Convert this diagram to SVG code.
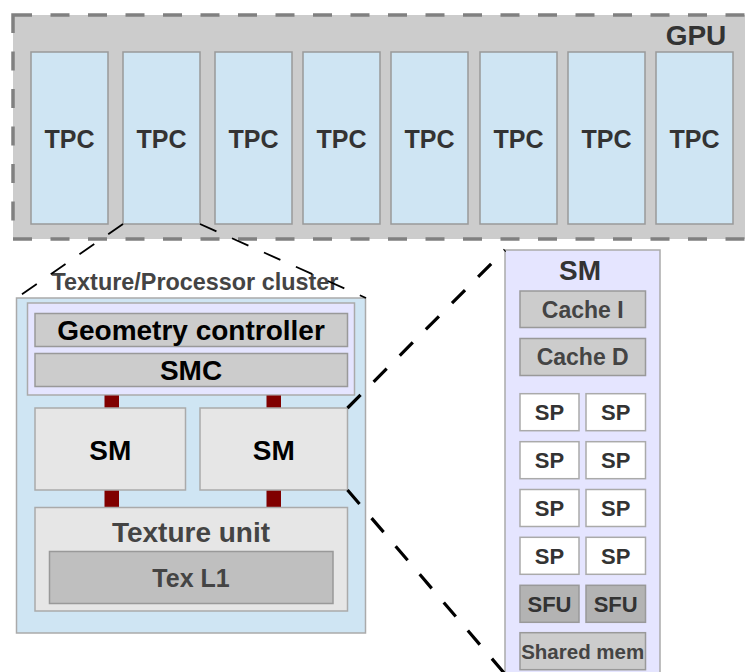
<svg xmlns="http://www.w3.org/2000/svg" width="745" height="672" viewBox="0 0 745 672">
<style>
text{font-family:"Liberation Sans",Arial,sans-serif;font-weight:bold;text-anchor:middle}
.tpc{fill:#cfe5f3;stroke:#999;stroke-width:1.5}
.tpct{font-size:25px;fill:#333}
.gray{fill:#cccccc;stroke:#999;stroke-width:1.5}
.light{fill:#e6e6e6;stroke:#aaa;stroke-width:1.5}
.sp{fill:#ffffff;stroke:#aaa;stroke-width:1.5}
.sfu{fill:#b3b3b3;stroke:#999;stroke-width:1.5}
.link{fill:#800000}
.thin{fill:none;stroke:#000;stroke-width:1.8;stroke-dasharray:18 17}
.thick{fill:none;stroke:#000;stroke-width:3.2;stroke-dasharray:18.5 18.5}
.spt{font-size:22px;fill:#333}
</style>
<g id="gpu">
<rect x="13" y="15" width="760" height="224" fill="#cccccc" stroke="#808080" stroke-width="3.5" stroke-dasharray="19 18.5"/>
<text x="696" y="45" style="font-size:28px;fill:#333">GPU</text>
</g>
<g id="tpc1"><rect class="tpc" x="31" y="52" width="77" height="172"/><text class="tpct" x="69.5" y="148">TPC</text></g>
<g id="tpc2"><rect class="tpc" x="123" y="52" width="77" height="172"/><text class="tpct" x="161.5" y="148">TPC</text></g>
<g id="tpc3"><rect class="tpc" x="215" y="52" width="77" height="172"/><text class="tpct" x="253.5" y="148">TPC</text></g>
<g id="tpc4"><rect class="tpc" x="303" y="52" width="77" height="172"/><text class="tpct" x="341.5" y="148">TPC</text></g>
<g id="tpc5"><rect class="tpc" x="391" y="52" width="77" height="172"/><text class="tpct" x="429.5" y="148">TPC</text></g>
<g id="tpc6"><rect class="tpc" x="480" y="52" width="77" height="172"/><text class="tpct" x="518.5" y="148">TPC</text></g>
<g id="tpc7"><rect class="tpc" x="568" y="52" width="77" height="172"/><text class="tpct" x="606.5" y="148">TPC</text></g>
<g id="tpc8"><rect class="tpc" x="656" y="52" width="77" height="172"/><text class="tpct" x="694.5" y="148">TPC</text></g>
<g id="cluster">
<rect x="16.5" y="298" width="349" height="335" fill="#cfe5f3" stroke="#aaa" stroke-width="1.5"/>
<text x="195" y="290" style="font-size:23.4px;fill:#444">Texture/Processor cluster</text>
</g>
<g id="controller">
<rect x="27.5" y="303" width="327" height="92" fill="#e5e5ff" stroke="#aaa" stroke-width="1.5"/>
</g>
<g id="geometry"><rect class="gray" x="35" y="313.5" width="312.5" height="33"/><text x="191" y="340" style="font-size:28px;fill:#000">Geometry controller</text></g>
<g id="smc"><rect class="gray" x="35" y="353.5" width="312.5" height="33"/><text x="191" y="380" style="font-size:28px;fill:#000">SMC</text></g>
<g id="links">
<rect class="link" x="104.5" y="395.5" width="14.5" height="12.5"/>
<rect class="link" x="266.5" y="395.5" width="14.5" height="12.5"/>
<rect class="link" x="104.5" y="490" width="14.5" height="17.5"/>
<rect class="link" x="266.5" y="490" width="14.5" height="17.5"/>
</g>
<g id="sm-left"><rect class="light" x="35" y="408" width="150.5" height="82"/><text x="110.3" y="459.5" style="font-size:28px;fill:#000">SM</text></g>
<g id="sm-right"><rect class="light" x="200" y="408" width="147.5" height="82"/><text x="273.8" y="459.5" style="font-size:28px;fill:#000">SM</text></g>
<g id="texture-unit">
<rect class="light" x="35" y="507.5" width="312.5" height="103.5"/>
<text x="191" y="541.5" style="font-size:28px;fill:#444">Texture unit</text>
</g>
<g id="tex-l1"><rect x="49.5" y="551.5" width="283.5" height="52" fill="#bfbfbf" stroke="#999" stroke-width="1.5"/><text x="191" y="586.5" style="font-size:25px;fill:#444">Tex L1</text></g>
<g id="sm-detail">
<rect x="505" y="250" width="155" height="440" fill="#e5e5ff" stroke="#aaa" stroke-width="1.5"/>
<text x="580" y="280" style="font-size:28px;fill:#333">SM</text>
</g>
<g id="cache-i"><rect class="gray" x="520" y="291" width="125.5" height="36.5"/><text x="582.7" y="317.5" style="font-size:23px;fill:#444">Cache I</text></g>
<g id="cache-d"><rect class="gray" x="520" y="338.5" width="125.5" height="37"/><text x="582.7" y="365" style="font-size:23px;fill:#444">Cache D</text></g>
<g id="sp1"><rect class="sp" x="520" y="393.7" width="59" height="37"/><text class="spt" x="549.5" y="420">SP</text></g>
<g id="sp2"><rect class="sp" x="586" y="393.7" width="59.5" height="37"/><text class="spt" x="615.7" y="420">SP</text></g>
<g id="sp3"><rect class="sp" x="520" y="441.7" width="59" height="37"/><text class="spt" x="549.5" y="468">SP</text></g>
<g id="sp4"><rect class="sp" x="586" y="441.7" width="59.5" height="37"/><text class="spt" x="615.7" y="468">SP</text></g>
<g id="sp5"><rect class="sp" x="520" y="489.5" width="59" height="37"/><text class="spt" x="549.5" y="516">SP</text></g>
<g id="sp6"><rect class="sp" x="586" y="489.5" width="59.5" height="37"/><text class="spt" x="615.7" y="516">SP</text></g>
<g id="sp7"><rect class="sp" x="520" y="537.3" width="59" height="37"/><text class="spt" x="549.5" y="563.5">SP</text></g>
<g id="sp8"><rect class="sp" x="586" y="537.3" width="59.5" height="37"/><text class="spt" x="615.7" y="563.5">SP</text></g>
<g id="sfu1"><rect class="sfu" x="520" y="585.3" width="59" height="37"/><text class="spt" x="549.5" y="611.7">SFU</text></g>
<g id="sfu2"><rect class="sfu" x="586" y="585.3" width="59.5" height="37"/><text class="spt" x="615.7" y="611.7">SFU</text></g>
<g id="shared-mem"><rect class="gray" x="520" y="632.7" width="125.5" height="37"/><text x="582.7" y="659.3" style="font-size:20.5px;fill:#444">Shared mem</text></g>
<g id="connectors">
<path class="thin" d="M123,224 L16.5,298"/>
<path class="thin" d="M200,224 L366,298"/>
<path class="thick" d="M347.5,408 L505,250"/>
<path class="thick" d="M347.5,490 L505,674"/>
</g>
</svg>
